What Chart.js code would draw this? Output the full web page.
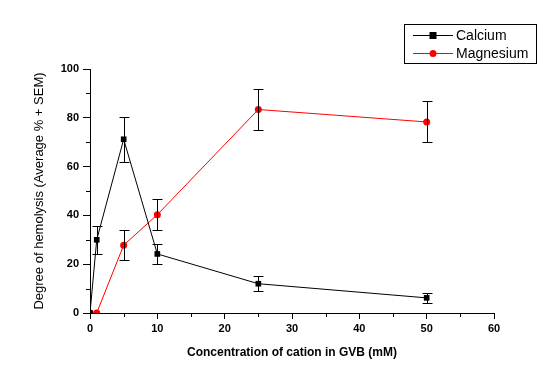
<!DOCTYPE html>
<html>
<head>
<meta charset="utf-8">
<script src="https://cdn.jsdelivr.net/npm/chart.js@4/dist/chart.umd.min.js"></script>
<style>
  body { margin: 0; background: #fff; }
  canvas { display: block; }
</style>
</head>
<body>
<canvas id="myChart" width="542" height="377"></canvas>
<script>
// Konzentrationen (mM)
const concentrations = [0, 1, 5, 10, 25, 50];
const calciumValues = [0, 30, 71.2, 24.2, 12, 6.2];
const calciumErr = [0, 5.8, 9.2, 4.2, 3.1, 2.1];
const magnesiumConc = [0, 1, 5, 10, 25, 50];
const magnesiumValues = [0, 0, 27.8, 40.3, 83.4, 78.3];
const magnesiumErr = [0, 0, 6.1, 6.3, 8.6, 8.4];

const xMinorTicks = [5, 15, 25, 35, 45, 55];
const yMinorTicks = [10, 30, 50, 70, 90];

function toPoints(xs, ys) {
    return xs.map((x, i) => ({ x: x, y: ys[i] }));
}

// Fehlerbalken, Nebenstriche und Legende
const extras = {
    id: 'extras',
    afterDatasetsDraw(chart) {
        const ctx = chart.ctx;
        const xs = chart.scales.x;
        const ys = chart.scales.y;
        ctx.save();
        ctx.strokeStyle = '#000';
        ctx.lineWidth = 1;
        const sets = [[concentrations, calciumValues, calciumErr], [magnesiumConc, magnesiumValues, magnesiumErr]];
        sets.forEach(([cx, vals, errs]) => {
            cx.forEach((c, i) => {
                if (!errs[i]) return;
                const px = Math.round(xs.getPixelForValue(c)) + 0.5;
                const top = Math.round(ys.getPixelForValue(vals[i] + errs[i])) + 0.5;
                const bot = Math.round(ys.getPixelForValue(vals[i] - errs[i])) + 0.5;
                ctx.beginPath();
                ctx.moveTo(px, top); ctx.lineTo(px, bot);
                ctx.moveTo(px - 5, top); ctx.lineTo(px + 5, top);
                ctx.moveTo(px - 5, bot); ctx.lineTo(px + 5, bot);
                ctx.stroke();
            });
        });
        // Nebenstriche
        const xAxisY = chart.chartArea.bottom;
        xMinorTicks.forEach(v => {
            const px = Math.round(xs.getPixelForValue(v)) + 0.5;
            ctx.beginPath();
            ctx.moveTo(px, xAxisY); ctx.lineTo(px, xAxisY + 4);
            ctx.stroke();
        });
        const yAxisX = chart.chartArea.left;
        yMinorTicks.forEach(v => {
            const py = Math.round(ys.getPixelForValue(v)) + 0.5;
            ctx.beginPath();
            ctx.moveTo(yAxisX, py); ctx.lineTo(yAxisX - 4, py);
            ctx.stroke();
        });
        ctx.restore();
    },
    afterDraw(chart) {
        const ctx = chart.ctx;
        ctx.save();
        ctx.strokeStyle = '#000';
        ctx.lineWidth = 1;
        ctx.strokeRect(404.5, 24.5, 132, 39);
        const rows = [
            { label: 'Calcium', color: '#000', style: 'rect', y: 35.5 },
            { label: 'Magnesium', color: '#ff0000', style: 'circle', y: 53.5 }
        ];
        ctx.font = '14px Arial, "Liberation Sans", sans-serif';
        ctx.textBaseline = 'middle';
        rows.forEach(r => {
            ctx.strokeStyle = r.color;
            ctx.beginPath();
            ctx.moveTo(413, r.y); ctx.lineTo(453, r.y);
            ctx.stroke();
            ctx.fillStyle = r.color;
            if (r.style === 'rect') {
                ctx.fillRect(429.5, r.y - 3.5, 7, 7);
            } else {
                ctx.beginPath();
                ctx.arc(433, r.y, 3.5, 0, Math.PI * 2);
                ctx.fill();
            }
            ctx.fillStyle = '#000';
            ctx.fillText(r.label, 456, r.y + 1);
        });
        ctx.restore();
    }
};

var ctx = document.getElementById('myChart').getContext('2d');
var myChart = new Chart(ctx, {
    type: 'line',
    data: {
        datasets: [{
            label: 'Calcium',
            data: toPoints(concentrations, calciumValues),
            borderColor: '#000',
            backgroundColor: '#000',
            borderWidth: 1,
            pointStyle: 'rect',
            pointRadius: 4,
            pointBorderWidth: 0,
            tension: 0
        }, {
            label: 'Magnesium',
            data: toPoints(magnesiumConc, magnesiumValues),
            borderColor: '#ff0000',
            backgroundColor: '#ff0000',
            borderWidth: 1,
            pointStyle: 'circle',
            pointRadius: 3.5,
            pointBorderWidth: 0,
            tension: 0
        }]
    },
    options: {
        responsive: false,
        animation: false,
        layout: { padding: { top: 69, right: 48, left: 0, bottom: 0 } },
        plugins: {
            legend: { display: false },
            tooltip: { enabled: false }
        },
        scales: {
            x: {
                type: 'linear',
                min: 0,
                max: 60,
                afterFit: s => { s.height = 64; },
                border: { color: '#000', width: 1 },
                grid: { drawOnChartArea: false, color: '#000', tickLength: 6, tickColor: '#000' },
                ticks: {
                    stepSize: 10,
                    padding: 3,
                    color: '#000',
                    font: { family: 'Arial, "Liberation Sans", sans-serif', size: 11, weight: 'bold' }
                },
                title: {
                    display: true,
                    text: 'Concentration of cation in GVB (mM)',
                    color: '#000',
                    padding: { top: 0, bottom: 17 },
                    font: { family: 'Arial, "Liberation Sans", sans-serif', size: 12, weight: 'bold' }
                }
            },
            y: {
                min: 0,
                max: 100,
                afterFit: s => { s.width = 90; },
                border: { color: '#000', width: 1 },
                grid: { drawOnChartArea: false, color: '#000', tickLength: 7, tickColor: '#000' },
                ticks: {
                    stepSize: 20,
                    padding: 4,
                    color: '#000',
                    font: { family: 'Arial, "Liberation Sans", sans-serif', size: 11, weight: 'bold' }
                },
                title: {
                    display: true,
                    text: 'Degree of hemolysis (Average % + SEM)',
                    color: '#000',
                    padding: { top: 32, bottom: 0 },
                    font: { family: 'Arial, "Liberation Sans", sans-serif', size: 13 }
                }
            }
        }
    },
    plugins: [extras]
});
</script>
</body>
</html>
